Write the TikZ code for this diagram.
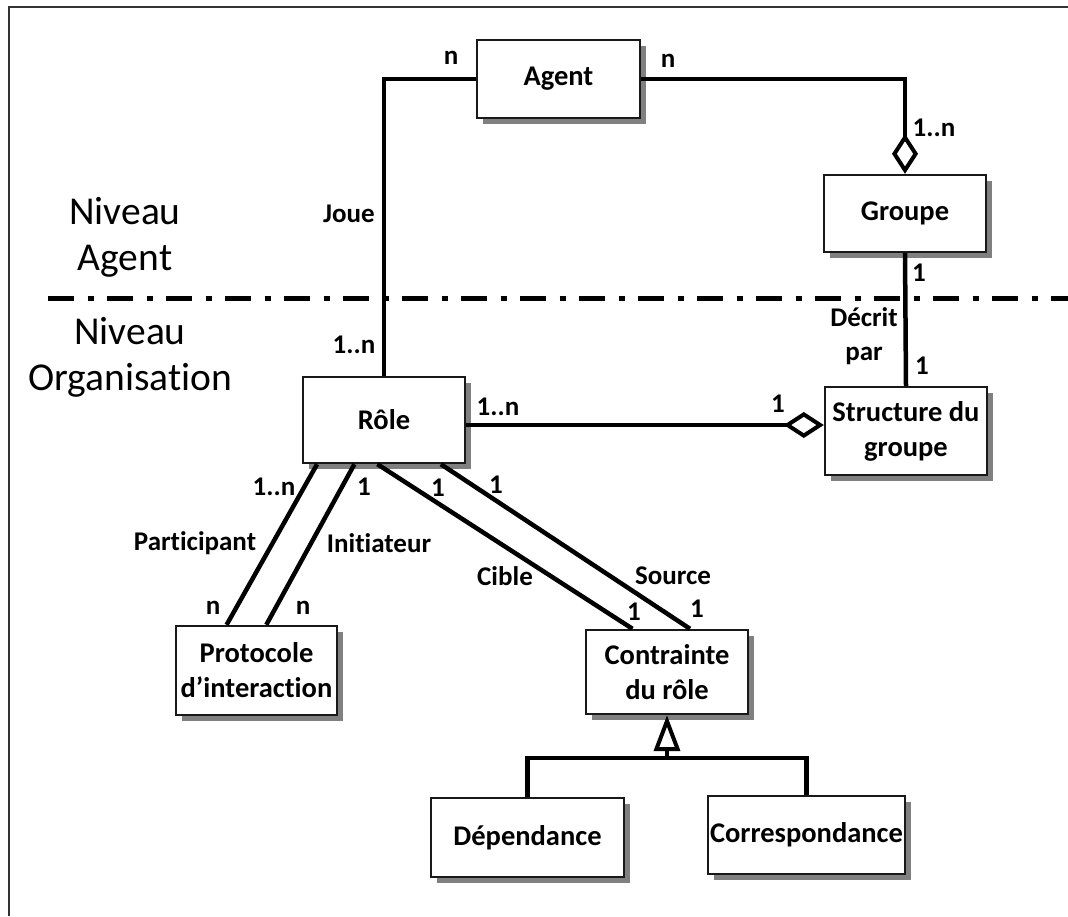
\documentclass[tikz,border=0pt]{standalone}
\usepackage{fontspec}
\setmainfont[Ligatures=NoCommon]{Carlito}
\usetikzlibrary{arrows.meta,shadows,calc}
\begin{document}
\begin{tikzpicture}[x=1pt,y=-1pt,
  box/.style={draw=black!90, line width=2.4pt, fill=white, inner sep=0pt, align=center,
    font=\fontsize{28.5}{35}\selectfont\bfseries,
    drop shadow={shadow xshift=6pt, shadow yshift=-6pt, fill=black!50, opacity=1}},
  conn/.style={line width=4.5pt, black},
  lab/.style={inner sep=0pt, align=center, font=\fontsize{27}{34}\selectfont\bfseries},
  lvl/.style={inner sep=0pt, align=center, font=\fontsize{39.5}{46}\selectfont},
  agg/.style={-{Diamond[open,length=40pt,width=26pt,line width=4pt]}},
  gen/.style={-{Triangle[open,length=36pt,width=26pt,line width=4pt]}}
]
\useasboundingbox (0,0) rectangle (1068,916);
% frame
\draw[line width=2.5pt, black!80] (9,916) -- (9,7) -- (1068,7);

% level separator
\coordinate (sepL) at (48,298);
\coordinate (sepR) at (1068,298);
\draw[line width=5pt, dash pattern=on 26pt off 13.5pt on 6pt off 13.5pt] (sepL) -- (sepR);

% boxes
\node[box, minimum width=163pt, minimum height=78pt] (agent) at (558.5,79) {Agent};
\node[box, minimum width=162pt, minimum height=77pt] (groupe) at (905,213.5) {Groupe};
\node[box, minimum width=162pt, minimum height=86pt] (role) at (384,420) {Rôle};
\node[box, minimum width=162pt, minimum height=88pt] (struct) at (906,431) {Structure du\\groupe};
\node[box, minimum width=161pt, minimum height=89pt] (proto) at (256.5,670.5) {Protocole\\d’interaction};
\node[box, minimum width=162pt, minimum height=84pt] (contr) at (667,672) {Contrainte\\du rôle};
\node[box, minimum width=193pt, minimum height=79pt] (dep) at (527.5,837.5) {Dépendance};
\node[box, minimum width=197pt, minimum height=78pt] (corr) at (806.5,835) {Correspondance};

% connectors
\draw[conn] (agent.west) -| (role.north);
\draw[conn, agg] (agent.east) -| (groupe.north);
\draw[conn] (groupe.south) -- (struct.north);
\draw[conn, agg] ([yshift=-5pt]role.east) -- ([yshift=6pt]struct.west);
\draw[conn] ($(role.south west)!0.093!(role.south east)$) -- ($(proto.north west)!0.317!(proto.north east)$);
\draw[conn] ($(role.south west)!0.32!(role.south east)$) -- ($(proto.north west)!0.56!(proto.north east)$);
\draw[conn] ($(role.south west)!0.46!(role.south east)$) -- ($(contr.north west)!0.29!(contr.north east)$);
\draw[conn] ($(role.south west)!0.846!(role.south east)$) -- ($(contr.north west)!0.64!(contr.north east)$);
\coordinate (j) at ($(contr.south)+(0,43)$);
\draw[conn] (dep.north) |- (j) -| (corr.north);
\draw[conn, gen] (j) -- (contr.south);

% level labels
\node[lvl] (lvlA) at (125,237) {Niveau\\Agent};
\node[lvl] (lvlO) at (130,357) {Niveau\\Organisation};

% association labels
\node[lab] (m1) at (451,58) {n};
\node[lab] (m2) at (668,61) {n};
\node[lab] (m3) at (934,128) {1..n};
\node[lab] (joue) at (349,214) {Joue};
\node[lab] (m4) at (354,345) {1..n};
\node[lab] (m5) at (919,273) {1};
\node[lab] (decrit) at (864,336) {Décrit\\par};
\node[lab] (m6) at (922,366) {1};
\node[lab] (m7) at (498,407) {1..n};
\node[lab] (m8) at (778,404) {1};
\node[lab] (m9) at (274,487) {1..n};
\node[lab] (m10) at (364,487) {1};
\node[lab] (m11) at (438,488) {1};
\node[lab] (m12) at (496,485) {1};
\node[lab] (part) at (195,543) {Participant};
\node[lab] (init) at (379,543) {Initiateur};
\node[lab] (cible) at (505,576) {Cible};
\node[lab] (source) at (673,576) {Source};
\node[lab] (m13) at (213,608) {n};
\node[lab] (m14) at (303,608) {n};
\node[lab] (m15) at (634,612) {1};
\node[lab] (m16) at (697,609) {1};
\end{tikzpicture}
\end{document}
